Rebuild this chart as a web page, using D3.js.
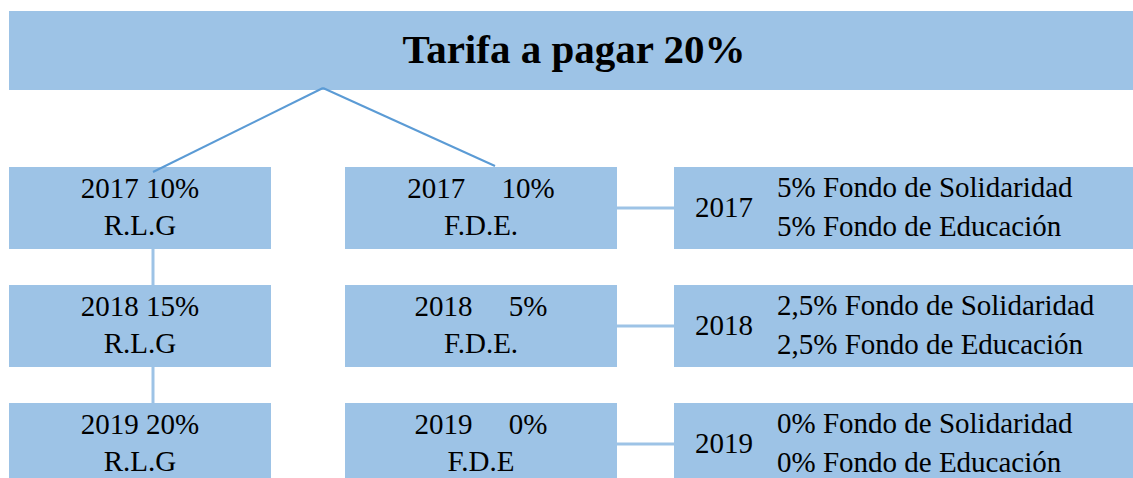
<!DOCTYPE html>
<html><head><meta charset="utf-8">
<script src="https://cdn.jsdelivr.net/npm/d3@7"></script>
<style>body{margin:0;background:#fff}text{font-family:"Liberation Serif","Times New Roman",serif;white-space:pre}</style>
</head><body>
<svg id="c" width="1133" height="478"></svg>
<script>
const title = "Tarifa a pagar 20%";
const years = ["2017", "2018", "2019"];
const rlgPct = ["10%", "15%", "20%"];
const fdePct = ["10%", "5%", "0%"];
const fdeLabel = ["F.D.E.", "F.D.E.", "F.D.E"];
const solidaridad = ["5%", "2,5%", "0%"];
const educacion = ["5%", "2,5%", "0%"];

const svg = d3.select("#c");
const boxFill = "#9dc3e6";
const rowY = d3.scaleBand().domain(years).range([167, 485]).paddingInner(36 / 118).paddingOuter(0);
const rowH = rowY.bandwidth();
const cols = {left: [9, 271], mid: [345, 617], right: [674, 1133]};
const fs = 29;

// title box
svg.append("rect").attr("x", 9).attr("y", 11).attr("width", 1124).attr("height", 79).attr("fill", boxFill);
svg.append("text").attr("x", 574).attr("y", 63).attr("text-anchor", "middle")
  .attr("font-size", 41).attr("font-weight", "bold").text(title);

years.forEach((yr, i) => {
  const y = rowY(yr);
  if (i > 0) {
    svg.append("line").attr("x1", 153).attr("x2", 153).attr("y1", rowY(years[i-1]) + rowH).attr("y2", y)
      .attr("stroke", boxFill).attr("stroke-width", 3);
  }
  svg.append("line").attr("x1", cols.mid[1]).attr("x2", cols.right[0]).attr("y1", y + 41).attr("y2", y + 41)
    .attr("stroke", boxFill).attr("stroke-width", 3);
  for (const k of ["left", "mid", "right"]) {
    svg.append("rect").attr("x", cols[k][0]).attr("y", y).attr("width", cols[k][1] - cols[k][0]).attr("height", rowH).attr("fill", boxFill);
  }
  const lcx = (cols.left[0] + cols.left[1]) / 2, mcx = (cols.mid[0] + cols.mid[1]) / 2;
  svg.append("text").attr("x", lcx).attr("y", y + 31).attr("text-anchor", "middle").attr("font-size", fs).text(yr + " " + rlgPct[i]);
  svg.append("text").attr("x", lcx).attr("y", y + 68).attr("text-anchor", "middle").attr("font-size", fs).text("R.L.G");
  svg.append("text").attr("x", mcx).attr("y", y + 31).attr("text-anchor", "middle").attr("font-size", fs).text(yr + "     " + fdePct[i]);
  svg.append("text").attr("x", mcx).attr("y", y + 68).attr("text-anchor", "middle").attr("font-size", fs).text(fdeLabel[i]);
  svg.append("text").attr("x", 695).attr("y", y + 50).attr("font-size", fs).text(yr);
  svg.append("text").attr("x", 777).attr("y", y + 30).attr("font-size", fs).text(solidaridad[i] + " Fondo de Solidaridad");
  svg.append("text").attr("x", 777).attr("y", y + 69).attr("font-size", fs).text(educacion[i] + " Fondo de Educación");
});

// connectors from title (drawn on top)
const lc = "#5b9bd5";
svg.append("line").attr("x1", 323).attr("y1", 88).attr("x2", 153).attr("y2", 172).attr("stroke", lc).attr("stroke-width", 2);
svg.append("line").attr("x1", 323).attr("y1", 88).attr("x2", 495).attr("y2", 166).attr("stroke", lc).attr("stroke-width", 2);
</script>
</body></html>
